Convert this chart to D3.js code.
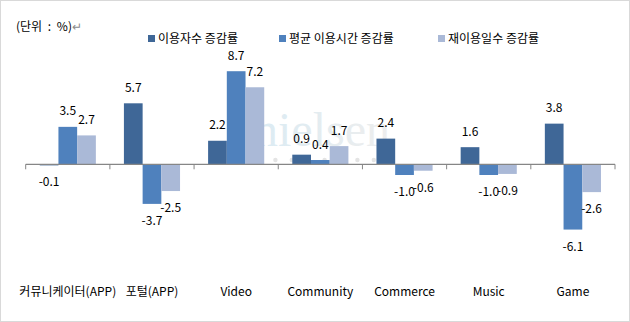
<!DOCTYPE html>
<html>
<head>
<meta charset="utf-8">
<script src="https://cdn.jsdelivr.net/npm/d3@7"></script>
<style>
  html, body { margin: 0; padding: 0; background: #fff; }
  svg { display: block; }
  text { font-family: "Noto Sans CJK KR", "Noto Sans", sans-serif; font-size: 12px; fill: #000; }
</style>
</head>
<body>
<svg id="chart" width="630" height="322"></svg>
<script>
const categories = ["커뮤니케이터(APP)", "포털(APP)", "Video", "Community", "Commerce", "Music", "Game"];
const seriesNames = ["이용자수 증감률", "평균 이용시간 증감률", "재이용일수 증감률"];
const usersChange = [-0.1, 5.7, 2.2, 0.9, 2.4, 1.6, 3.8];
const timeChange = [3.5, -3.7, 8.7, 0.4, -1.0, -1.0, -6.1];
const revisitChange = [2.7, -2.5, 7.2, 1.7, -0.6, -0.9, -2.6];
const seriesValues = [usersChange, timeChange, revisitChange];
const unitLabel = "(단위 : %)";

const colors = ["#3F6797", "#4F81BD", "#AAB9D7"];

const svg = d3.select("#chart");
const W = 630, H = 322;

svg.append("rect").attr("x", 0.5).attr("y", 0.5).attr("width", W - 1).attr("height", H - 1)
  .attr("fill", "#fff").attr("stroke", "#d9d9d9");

// watermark
const defs = svg.append("defs");
const grad = defs.append("linearGradient").attr("id", "wm").attr("x1", "0").attr("x2", "1").attr("y1", "0").attr("y2", "0");
grad.append("stop").attr("offset", "0").attr("stop-color", "#cfe5f0");
grad.append("stop").attr("offset", "1").attr("stop-color", "#e8e8e8");
svg.append("text").attr("x", 254).attr("y", 146)
  .style("font-family", "'Liberation Serif', 'DejaVu Serif', serif").style("font-size", "48px")
  .style("fill", "url(#wm)").attr("opacity", 0.75)
  .text("nielsen");
svg.append("g").selectAll("circle").data(d3.range(9)).join("circle")
  .attr("cx", i => 259 + i * 16.4).attr("cy", 160).attr("r", 2.2).attr("fill", "#e4e4e4");

const x = d3.scaleBand().domain(categories).range([25.7, 615]).padding(0);
const bw = x.bandwidth();
const xi = d3.scaleBand().domain(d3.range(3)).range([bw / 6, bw * 5 / 6]).padding(0);
const y = d3.scaleLinear().domain([-8, 10]).range([164.3 + 8 * 10.7, 164.3 - 10 * 10.7]);

const data = [];
categories.forEach((c, ci) => {
  seriesValues.forEach((vals, si) => data.push({ c, si, v: vals[ci] }));
});

svg.append("g").selectAll("rect").data(data).join("rect")
  .attr("x", d => x(d.c) + xi(d.si))
  .attr("width", xi.bandwidth())
  .attr("y", d => y(Math.max(0, d.v)))
  .attr("height", d => Math.abs(y(d.v) - y(0)))
  .attr("fill", d => colors[d.si]);

// axis
const axis = svg.append("g").attr("transform", `translate(0,${y(0)})`)
  .call(d3.axisBottom(x).tickSize(0).tickFormat(""));
axis.select(".domain").attr("stroke", "#868686").attr("stroke-width", 1.3).attr("d", `M${x.range()[0]},0H${x.range()[1]}`);
const boundaries = categories.map(c => x(c)).concat([x.range()[1]]);
axis.selectAll("line.bt").data(boundaries).join("line").attr("class", "bt")
  .attr("x1", d => d).attr("x2", d => d).attr("y1", 0).attr("y2", 5)
  .attr("stroke", "#868686").attr("stroke-width", 1);

// value labels
const fmt = v => d3.format(".1f")(v).replace("\u2212", "-");
svg.append("g").selectAll("text").data(data).join("text")
  .attr("x", d => x(d.c) + xi(d.si) + xi.bandwidth() / 2)
  .attr("y", d => d.v >= 0 ? y(d.v) - 11.5 : y(d.v) + 21)
  .attr("text-anchor", "middle")
  .text(d => fmt(d.v));

// category labels
svg.append("g").selectAll("text").data(categories).join("text")
  .attr("x", d => x(d) + bw / 2).attr("y", 296)
  .attr("text-anchor", "middle").text(d => d);

// unit label
const ut = svg.append("text").attr("x", 16).attr("y", 31).style("word-spacing", "3px");
ut.append("tspan").text(unitLabel);
ut.append("tspan").style("fill", "#8c8c8c").text("↵");

// legend
const legendX = [148, 279, 438];
const lg = svg.append("g").selectAll("g").data(seriesNames).join("g")
  .attr("transform", (d, i) => `translate(${legendX[i]},0)`);
lg.append("rect").attr("x", 0).attr("y", 35).attr("width", 7).attr("height", 7).attr("fill", (d, i) => colors[i]);
lg.append("text").attr("x", 10).attr("y", 43).text(d => d);
</script>
</body>
</html>
